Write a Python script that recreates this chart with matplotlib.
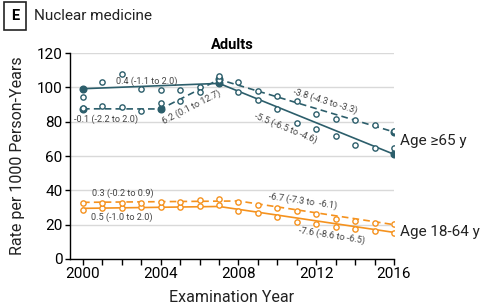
import numpy as np
import matplotlib.pyplot as plt
from matplotlib.ticker import MultipleLocator

plt.rcParams['font.family'] = ['Roboto', 'DejaVu Sans']

# observed annual rates (open circles)
years = np.arange(2000, 2017)
old_solid = [94.3, 103.3, 107.7, 98.8, 98.2, 98.2, 100.4, 104.5, 97.0, 92.6,
             87.6, 79.4, 75.9, 71.6, 66.6, 64.8, 64.8]
old_dash = [88.1, 89.3, 88.8, 86.0, 90.7, 92.2, 97.1, 106.8, 103.3, 97.8,
            94.9, 92.2, 84.4, 81.5, 81.0, 78.0, 74.3]
young_solid = [28.5, 29.5, 29.5, 30.5, 30.1, 30.5, 30.9, 31.3, 28.1, 27.0,
               24.3, 21.5, 20.6, 18.5, 17.3, 16.3, 15.3]
young_dash = [32.8, 32.8, 32.8, 32.4, 33.4, 33.4, 34.4, 34.8, 33.2, 31.4,
              29.5, 28.0, 26.0, 23.5, 22.1, 21.2, 20.2]

# joinpoint fitted values
old_solid_jp_x = [2000, 2007, 2016]
old_solid_jp_y = [99.2, 102.3, 61.0]
old_dash_jp_x = [2000, 2004, 2007, 2016]
old_dash_jp_y = [87.5, 87.4, 104.6, 74.0]
young_solid_jp_x = [2000, 2007, 2016]
young_solid_jp_y = [29.5, 30.6, 15.5]
young_dash_jp_x = [2000, 2008, 2016]
young_dash_jp_y = [33.0, 33.8, 20.0]

teal = '#2c5e6b'
orange = '#f5921e'
txt = '#444444'

fig = plt.figure(figsize=(4.83, 3.08), dpi=100)
ax = fig.add_axes([0.1449, 0.1591, 0.6708, 0.6688])

ax.plot(old_solid_jp_x, old_solid_jp_y, color=teal, lw=1.2, zorder=3)
ax.plot(old_solid_jp_x, old_solid_jp_y, 'o', color=teal, ms=4.8, zorder=4)
ax.plot(old_dash_jp_x, old_dash_jp_y, color=teal, lw=1.2, dashes=(4, 2.5), zorder=3)
ax.plot(old_dash_jp_x, old_dash_jp_y, 'o', color=teal, ms=4.8, zorder=4)
ax.plot(young_solid_jp_x, young_solid_jp_y, color=orange, lw=1.2, zorder=3)
ax.plot(young_dash_jp_x, young_dash_jp_y, color=orange, lw=1.2, dashes=(4, 2.5), zorder=3)
for obs, col in [(old_solid, teal), (old_dash, teal), (young_solid, orange), (young_dash, orange)]:
    ax.plot(years, obs, 'o', mfc='white', mec=col, mew=1.0, ms=3.8, zorder=5)

ax.set_xlim(1999.33, 2016)
ax.set_ylim(0, 120)
ax.xaxis.set_major_locator(MultipleLocator(4))
ax.xaxis.set_minor_locator(MultipleLocator(1))
ax.yaxis.set_major_locator(MultipleLocator(20))
ax.tick_params(axis='x', which='both', length=4, width=1, labelsize=11, pad=2)
ax.tick_params(axis='y', length=3.5, width=1, labelsize=11, pad=2)
ax.grid(axis='y', color='#d9d9d9', lw=1)
ax.set_axisbelow(True)
for s in ['top', 'right']:
    ax.spines[s].set_visible(False)
for s in ['left', 'bottom']:
    ax.spines[s].set_linewidth(1)

ax.set_xlabel('Examination Year', fontsize=11.5, labelpad=6, color='#222222')
ax.set_ylabel('Rate per 1000 Person-Years', fontsize=11.5, labelpad=8, color='#222222')
ax.set_title('Adults', fontsize=10.5, fontweight='bold', pad=3)

fs = 6.6
ax.text(2003.3, 103.4, '0.4 (-1.1 to 2.0)', fontsize=fs, color=txt, ha='center', va='center')
ax.text(2001.18, 81.5, '-0.1 (-2.2 to 2.0)', fontsize=fs, color=txt, ha='center', va='center')
ax.text(2005.6, 88.6, '6.2 (0.1 to 12.7)', fontsize=fs, color=txt, ha='center', va='center', rotation=27)
ax.text(2012.45, 91.8, '-3.8 (-4.3 to -3.3)', fontsize=fs, color=txt, ha='center', va='center', rotation=-17)
ax.text(2010.45, 76.5, '-5.5 (-6.5 to -4.6)', fontsize=fs, color=txt, ha='center', va='center', rotation=-22)
ax.text(2002.07, 38.3, '0.3 (-0.2 to 0.9)', fontsize=fs, color=txt, ha='center', va='center')
ax.text(2002.02, 24.6, '0.5 (-1.0 to 2.0)', fontsize=fs, color=txt, ha='center', va='center')
ax.text(2011.32, 34.0, '-6.7 (-7.3 to  -6.1)', fontsize=fs, color=txt, ha='center', va='center', rotation=-8)
ax.text(2012.8, 13.8, '-7.6 (-8.6 to -6.5)', fontsize=fs, color=txt, ha='center', va='center', rotation=-9)

ax.text(2016.3, 68.7, 'Age ≥65 y', fontsize=11, color='#222222', ha='left', va='center', clip_on=False)
ax.text(2016.3, 15.7, 'Age 18-64 y', fontsize=11, color='#222222', ha='left', va='center', clip_on=False)

fig.text(15 / 483, 1 - 16 / 308, 'E', fontsize=10.5, fontweight='bold', ha='center', va='center',
         bbox=dict(boxstyle='square,pad=0.45', fc='white', ec='#222222', lw=1.2))
fig.text(34 / 483, 1 - 16 / 308, 'Nuclear medicine', fontsize=11, ha='left', va='center', color='#222222')

fig.savefig('out.png', dpi=100)
